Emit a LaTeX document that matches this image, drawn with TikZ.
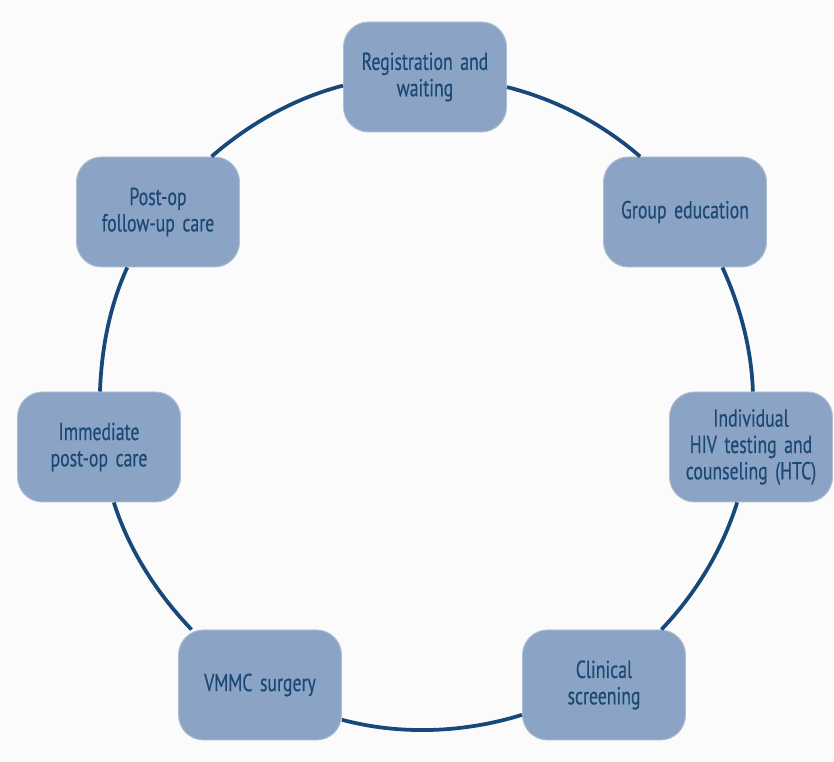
\documentclass[tikz,border=0pt]{standalone}
\usepackage{fontspec}
\setmainfont{PT Sans}[FakeStretch=0.72,WordSpace=1.6,FakeBold=0.4]
\usepackage{tikz}
\usetikzlibrary{arrows}
\usepackage{color}
\definecolor{ringblue}{RGB}{22,73,122}
\definecolor{boxfill}{RGB}{139,164,197}
\definecolor{boxline}{RGB}{176,190,210}
\definecolor{textblue}{RGB}{28,72,118}
\definecolor{pagebg}{RGB}{251,251,251}

\begin{document}
\begin{tikzpicture}[x=0.03cm,y=0.03cm,ringblue,line width=3.2pt,looseness=0.86]
  \tikzstyle{stage}=[rectangle,rounded corners=0.75cm,fill=boxfill,draw=boxline,line width=0.8pt,
    text=textblue,align=center,minimum width=4.89cm,minimum height=3.3cm,
    font=\fontsize{21}{22.5}\selectfont]

  \fill[pagebg] (0,0) rectangle (834,762);

  \node[stage] (reg)  at (425,685) {Registration and\\waiting};
  \node[stage] (grp)  at (685,550) {Group education};
  \node[stage] (htc)  at (751,315) {Individual\\HIV testing and\\counseling (HTC)};
  \node[stage] (scr)  at (604,77)  {Clinical\\screening};
  \node[stage] (surg) at (260,77)  {VMMC surgery};
  \node[stage] (imm)  at (99,315)  {Immediate\\post-op care};
  \node[stage] (fol)  at (158,550) {Post-op\\follow-up care};

  % ring segments, clockwise from the top
  \path (reg.353.3)  edge[out=-14.2,in=139]   (grp.129)
        (grp.304.4)  edge[out=-65.4,in=92.1]  (htc.88.6)
        (htc.256.2)  edge[out=-107.4,in=46.3] (scr.44)
        (scr.200.7)  edge[out=-162.7,in=-14.9] (surg.337.1)
        (surg.141.9) edge[out=133.7,in=-72.4] (imm.285.6)
        (imm.89.3)   edge[out=87.9,in=245.4]  (fol.241.7)
        (fol.46.2)   edge[out=41,in=194.5]    (reg.186.7);
\end{tikzpicture}
\end{document}
